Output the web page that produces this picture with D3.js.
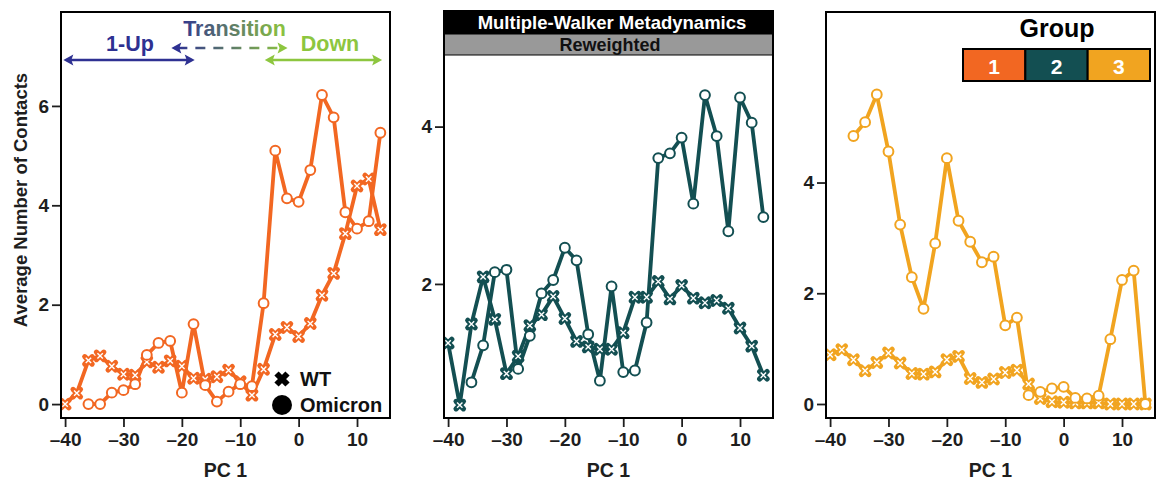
<!DOCTYPE html>
<html><head><meta charset="utf-8">
<script src="https://cdn.jsdelivr.net/npm/d3@7"></script>
<style>
body{margin:0;background:#fff;}
svg{display:block;font-family:"Liberation Sans",Arial,Helvetica,sans-serif;font-weight:bold;}
</style></head>
<body>
<svg id="chart" width="1156" height="482"></svg>
<script>
const pc = [-40,-38,-36,-34,-32,-30,-28,-26,-24,-22,-20,-18,-16,-14,-12,-10,-8,-6,-4,-2,0,2,4,6,8,10,12,14];
const xTicks = [-40,-30,-20,-10,0,10];
// Group 1
const wt1 = [0.0,0.22,0.88,0.97,0.76,0.60,0.58,0.85,0.74,0.87,0.76,0.52,0.50,0.55,0.68,0.45,0.18,0.70,1.40,1.54,1.36,1.62,2.19,2.63,3.43,4.39,4.53,3.51];
const om1 = [null,null,0.0,0.0,0.23,0.28,0.40,0.99,1.23,1.27,0.23,1.61,0.38,0.05,0.25,0.40,0.36,2.03,5.10,4.14,4.07,4.71,6.22,5.77,3.86,3.53,3.68,5.46];
// Group 2
const wt2 = [1.25,0.46,1.49,2.09,1.55,0.86,1.08,1.47,1.61,1.84,1.56,1.27,1.20,1.17,1.17,1.38,1.83,1.83,2.03,1.81,1.98,1.82,1.76,1.79,1.69,1.44,1.21,0.84];
const om2 = [null,null,0.75,1.22,2.15,2.18,0.92,1.34,1.88,2.05,2.46,2.30,1.36,0.77,1.97,0.88,0.90,1.51,3.60,3.66,3.86,3.02,4.40,3.88,2.67,4.37,4.05,2.85];
// Group 3
const wt3 = [0.89,0.98,0.80,0.60,0.75,0.92,0.74,0.55,0.54,0.58,0.80,0.86,0.46,0.39,0.45,0.57,0.61,0.36,0.10,0.04,0.03,0.02,0.02,0.02,0.0,0.0,0.0,0.0];
const om3 = [null,null,4.84,5.09,5.59,4.56,3.24,2.29,1.72,2.90,4.44,3.31,2.93,2.56,2.66,1.42,1.56,0.16,0.22,0.28,0.31,0.11,0.10,0.15,1.17,2.24,2.41,0.0];

const groups = ["1","2","3"];
const groupColors = ["#F26722","#134F52","#F1A420"];
const yTicks1 = [0,2,4,6], yTicks2 = [2,4], yTicks3 = [0,2,4];

const svg = d3.select("#chart");
const bottom = 418;
const txt = "#1e1e1e";
const FF = "Liberation Sans, Arial, sans-serif";

function panel(left, top, frameTop, yDom, yTicks, color, wt, om){
  const right = left + 329;
  const x = d3.scaleLinear().domain([-40.7,15.65]).range([left,right]);
  const y = d3.scaleLinear().domain(yDom).range([bottom, top]);
  const g = svg.append("g");
  const xa = g.append("g").attr("transform",`translate(0,${bottom+1})`)
    .call(d3.axisBottom(x).tickValues(xTicks).tickSize(8).tickPadding(5.5).tickFormat(d=>d<0?"\u2013"+Math.abs(d):d));
  xa.select(".domain").remove();
  xa.selectAll("line").attr("stroke",txt).attr("stroke-width",1.8);
  xa.selectAll("text").attr("fill",txt).attr("font-size",19).attr("font-family",FF).attr("font-weight","bold");
  const ya = g.append("g").attr("transform",`translate(${left-1},0)`)
    .call(d3.axisLeft(y).tickValues(yTicks).tickSize(8).tickPadding(3).tickFormat(d3.format("d")));
  ya.select(".domain").remove();
  ya.selectAll("line").attr("stroke",txt).attr("stroke-width",1.8);
  ya.selectAll("text").attr("fill",txt).attr("font-size",19).attr("font-family",FF).attr("font-weight","bold");
  g.append("text").attr("x",(left+right)/2).attr("y",477).attr("text-anchor","middle")
    .attr("font-size",19.5).attr("fill",txt).text("PC 1");
  const cid = "clip"+left;
  svg.append("clipPath").attr("id",cid).append("rect").attr("x",left).attr("y",top).attr("width",329).attr("height",bottom-top);
  const pg = g.append("g").attr("clip-path",`url(#${cid})`);
  const line = d3.line().x(d=>x(d[0])).y(d=>y(d[1]));
  const wtD = pc.map((p,i)=>[p,wt[i]]), omD = pc.map((p,i)=>[p,om[i]]).filter(d=>d[1]!==null);
  [wtD, omD].forEach(D=>{
    pg.append("path").datum(D).attr("d",line).attr("fill","none").attr("stroke",color)
      .attr("stroke-width",3.8).attr("stroke-linejoin","round");
  });
  const cg = pg.selectAll(".wt").data(wtD).enter().append("g").attr("transform",d=>`translate(${x(d[0])},${y(d[1])})`);
  cg.append("path").attr("d","M-3.7,-3.7L3.7,3.7M-3.7,3.7L3.7,-3.7").attr("stroke",color).attr("stroke-width",5.2).attr("stroke-linecap","round");
  cg.append("path").attr("d","M-2.7,-2.7L2.7,2.7M-2.7,2.7L2.7,-2.7").attr("stroke","#fff").attr("stroke-width",1.4);
  pg.selectAll(".om").data(omD).enter().append("circle").attr("cx",d=>x(d[0])).attr("cy",d=>y(d[1]))
    .attr("r",4.9).attr("fill","#fff").attr("stroke",color).attr("stroke-width",2);
  g.append("rect").attr("x",left).attr("y",frameTop).attr("width",329).attr("height",bottom-frameTop)
    .attr("fill","none").attr("stroke","#000").attr("stroke-width",2);
  return {x,y,g};
}

const p1 = panel(61, 12, 12, [-0.28,7.89], yTicks1, groupColors[0], wt1, om1);
const p2 = panel(444, 55, 11, [0.296,4.91], yTicks2, groupColors[1], wt2, om2);
const p3 = panel(826, 12, 12, [-0.253,7.08], yTicks3, groupColors[2], wt3, om3);

svg.append("text").attr("transform","translate(27,200) rotate(-90)").attr("text-anchor","middle")
  .attr("font-size",18.5).attr("fill",txt).text("Average Number of Contacts");

// panel 2 strips
svg.append("rect").attr("x",444).attr("y",11).attr("width",329).attr("height",23).attr("fill","#000");
svg.append("rect").attr("x",444).attr("y",34).attr("width",329).attr("height",21).attr("fill","#999").attr("stroke","#000").attr("stroke-width",1);
svg.append("text").attr("x",612).attr("y",29).attr("text-anchor","middle").attr("fill","#fff").attr("font-size",18.5).text("Multiple-Walker Metadynamics");
svg.append("text").attr("x",610).attr("y",50.5).attr("text-anchor","middle").attr("fill","#111").attr("font-size",18).text("Reweighted");
svg.append("rect").attr("x",444).attr("y",11).attr("width",329).attr("height",407).attr("fill","none").attr("stroke","#000").attr("stroke-width",2);

// annotations panel 1
const navy = "#2E3192", green = "#8DC63F";
const defs = svg.append("defs");
const grad = defs.append("linearGradient").attr("id","tg").attr("gradientUnits","userSpaceOnUse")
  .attr("x1",p1.x(-21)).attr("x2",p1.x(-2)).attr("y1",0).attr("y2",0);
grad.append("stop").attr("offset","0%").attr("stop-color",navy);
grad.append("stop").attr("offset","100%").attr("stop-color",green);
function arrowLine(x1,x2,yy,col,dash){
  svg.append("line").attr("x1",x1+6).attr("x2",x2-6).attr("y1",yy).attr("y2",yy)
    .attr("stroke",col).attr("stroke-width",2.6).attr("stroke-dasharray",dash||null);
  svg.append("path").attr("d",`M${x1},${yy}L${x1+10},${yy-5.5}L${x1+8},${yy}L${x1+10},${yy+5.5}Z`).attr("fill",dash?navy:col);
  svg.append("path").attr("d",`M${x2},${yy}L${x2-10},${yy-5.5}L${x2-8},${yy}L${x2-10},${yy+5.5}Z`).attr("fill",dash?green:col);
}
arrowLine(p1.x(-40.3), p1.x(-17.8), 60, navy);
arrowLine(p1.x(-5.8), p1.x(14.3), 60, green);
arrowLine(p1.x(-21.8), p1.x(-1.9), 48, "url(#tg)", "10,8");
svg.append("text").attr("x",130).attr("y",51).attr("text-anchor","middle").attr("fill",navy).attr("font-size",21.5).text("1-Up");
svg.append("text").attr("x",330).attr("y",51).attr("text-anchor","middle").attr("fill",green).attr("font-size",21.5).text("Down");
svg.append("text").attr("x",234.5).attr("y",35.5).attr("text-anchor","middle").attr("fill","url(#tg)").attr("font-size",21.5).text("Transition");

// WT / Omicron legend
svg.append("path").attr("d","M-5.5,-5.5L5.5,5.5M-5.5,5.5L5.5,-5.5").attr("transform","translate(282,379)").attr("stroke","#000").attr("stroke-width",6);
svg.append("circle").attr("cx",282).attr("cy",405).attr("r",10).attr("fill","#000");
svg.append("text").attr("x",300).attr("y",386).attr("font-size",20).attr("fill","#111").text("WT");
svg.append("text").attr("x",300).attr("y",412).attr("font-size",20).attr("fill","#111").text("Omicron");

// Group legend
svg.append("text").attr("x",1057).attr("y",37).attr("text-anchor","middle").attr("font-size",25).attr("fill","#000").text("Group");
const lx = d3.scaleBand().domain(groups).range([963,1150]);
const lg = svg.append("g");
lg.selectAll("rect").data(groups).enter().append("rect").attr("x",d=>lx(d)).attr("y",49).attr("width",lx.bandwidth()).attr("height",32)
  .attr("fill",(d,i)=>groupColors[i]).attr("stroke","#000").attr("stroke-width",2);
lg.selectAll("text").data(groups).enter().append("text").attr("x",d=>lx(d)+lx.bandwidth()/2).attr("y",74).attr("text-anchor","middle")
  .attr("font-size",21).attr("fill","#fff").text(d=>d);
</script>
</body></html>
